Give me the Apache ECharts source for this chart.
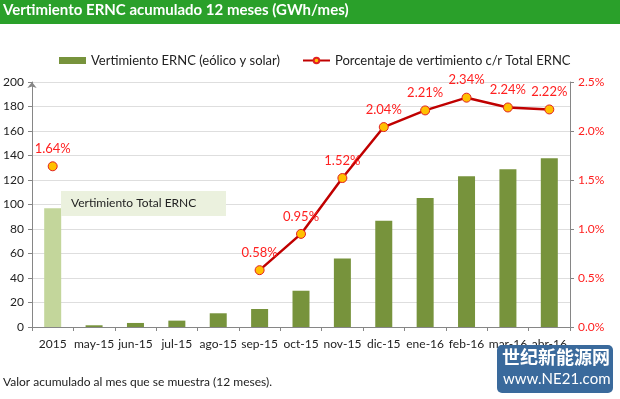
<!DOCTYPE html>
<html>
<head>
<meta charset="utf-8">
<script src="https://cdn.jsdelivr.net/npm/echarts@6/dist/echarts.min.js"></script>
<style>
  html, body { margin: 0; padding: 0; background: #fff; }
  #chart { width: 620px; height: 399px; }
</style>
</head>
<body>
<div id="chart"></div>
<script>
  // categorias del eje x
  const categories = ['2015', 'may-15', 'jun-15', 'jul-15', 'ago-15', 'sep-15', 'oct-15',
    'nov-15', 'dic-15', 'ene-16', 'feb-16', 'mar-16', 'abr-16'];
  // GWh acumulados 12 meses
  const vertimiento = [96.9, 1.4, 3.3, 5.2, 11.2, 14.7, 29.6, 56, 86.8, 105.3, 123, 128.7, 137.7];
  // % sobre total ERNC (el 2015 va suelto)
  const porcentaje = [1.64, null, null, null, null, 0.58, 0.95, 1.52, 2.04, 2.21, 2.34, 2.24, 2.22];

  const font = 'Lato, "Open Sans", sans-serif';
  const chart = echarts.init(document.getElementById('chart'));

  const option = {
    animation: false,
    textStyle: { fontFamily: font },
    grid: { left: 32, right: 50, top: 82, bottom: 72 },
    legend: {
      top: 49,
      left: 54,
      itemGap: 22,
      itemWidth: 27,
      itemHeight: 7,
      textStyle: { fontSize: 13, color: '#222', fontFamily: font },
      data: [
        { name: 'Vertimiento ERNC (eólico y solar)', icon: 'rect' },
        { name: 'Porcentaje de vertimiento c/r Total ERNC' },
      ],
    },
    xAxis: {
      type: 'category',
      data: categories,
      axisLine: { lineStyle: { color: '#868686' } },
      axisTick: { show: true, lineStyle: { color: '#868686' }, length: 4 },
      axisLabel: { color: '#222', fontSize: 12, margin: 11, interval: 0, fontFamily: font },
    },
    yAxis: [
      {
        type: 'value',
        min: 0,
        max: 200,
        interval: 20,
        axisLine: {
          show: true,
          symbol: ['none', 'arrow'],
          symbolSize: [7, 6],
          lineStyle: { color: '#868686' },
        },
        axisTick: { show: true, length: 4, lineStyle: { color: '#868686' } },
        axisLabel: { color: '#222', fontSize: 12, margin: 8, fontFamily: font },
        splitLine: { lineStyle: { color: '#dedede' } },
      },
      {
        type: 'value',
        min: 0,
        max: 2.5,
        interval: 0.5,
        axisLine: { show: true, lineStyle: { color: '#868686' } },
        axisTick: { show: true, length: 4, lineStyle: { color: '#868686' } },
        axisLabel: {
          color: '#ff2020',
          fontSize: 12,
          margin: 8,
          fontFamily: font,
          formatter: v => v.toFixed(1) + '%',
        },
        splitLine: { show: false },
      },
    ],
    series: [
      {
        name: 'Vertimiento ERNC (eólico y solar)',
        type: 'bar',
        barWidth: 17,
        itemStyle: { color: '#77933c' },
        data: vertimiento.map((v, i) => i === 0 ? { value: v, itemStyle: { color: '#c3d69b' } } : v),
      },
      {
        name: 'Porcentaje de vertimiento c/r Total ERNC',
        type: 'line',
        yAxisIndex: 1,
        data: porcentaje,
        connectNulls: false,
        symbol: 'circle',
        symbolSize: 9,
        lineStyle: { color: '#c00000', width: 2.5 },
        itemStyle: { color: '#ffc000', borderColor: '#e02020', borderWidth: 1 },
        label: {
          show: true,
          position: 'top',
          distance: 6,
          color: '#ff2020',
          fontSize: 13,
          fontFamily: font,
          formatter: p => p.value.toFixed(2) + '%',
        },
      },
    ],
    graphic: [
      {
        type: 'rect',
        left: 0, top: 0,
        shape: { width: 620, height: 24 },
        style: { fill: '#2aa02a' },
      },
      {
        type: 'text',
        left: 3, top: 3,
        style: { text: 'Vertimiento ERNC acumulado 12 meses (GWh/mes)', fill: '#fff', font: 'bold 15px ' + font },
      },
      {
        type: 'rect',
        left: 61, top: 191,
        z: 100,
        shape: { width: 165, height: 25 },
        style: { fill: '#ebf1de' },
      },
      {
        type: 'text',
        left: 71, top: 197,
        z: 101,
        style: { text: 'Vertimiento Total ERNC', fill: '#222', font: '12px ' + font },
      },
      {
        type: 'text',
        left: 3, top: 376,
        style: { text: 'Valor acumulado al mes que se muestra (12 meses).', fill: '#222', font: '12px ' + font },
      },
      {
        type: 'rect',
        left: 497, top: 345,
        z: 100,
        shape: { width: 116, height: 48, r: 5 },
        style: { fill: '#3a6a9c' },
      },
      {
        type: 'text',
        left: 502, top: 348,
        z: 101,
        style: { text: '世纪新能源网', fill: '#fff', font: 'bold 18px "Noto Sans CJK SC"' },
      },
      {
        type: 'text',
        left: 503, top: 372,
        z: 101,
        style: { text: 'www.NE21.com', fill: '#fff', font: '15px ' + font },
      },
    ],
  };

  chart.setOption(option);
</script>
</body>
</html>
